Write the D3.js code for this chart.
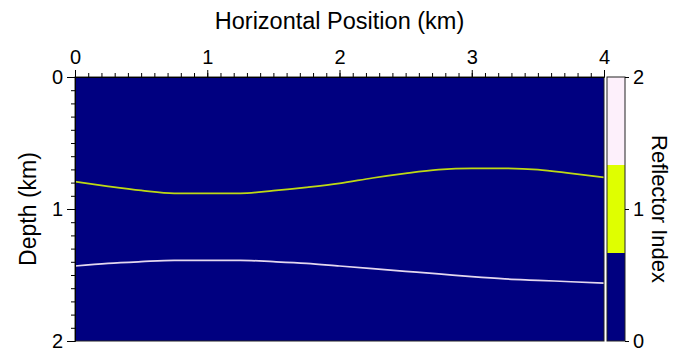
<!DOCTYPE html>
<html><head><meta charset="utf-8">
<script src="https://cdn.jsdelivr.net/npm/d3@7"></script>
<style>body{margin:0;background:#fff}svg{display:block}text{font-family:"Liberation Sans",Arial,sans-serif;fill:#000}</style>
</head><body><svg id="c" width="682" height="352"></svg>
<script>
// Data
const xPositions = [0,0.25,0.5,0.75,1,1.25,1.5,1.75,2,2.25,2.5,2.75,3,3.25,3.5,3.75,4];
const reflector1Depth = [0.793,0.828,0.859,0.881,0.881,0.881,0.861,0.836,0.806,0.765,0.730,0.702,0.692,0.692,0.702,0.730,0.760];
const reflector2Depth = [1.432,1.412,1.399,1.389,1.389,1.389,1.399,1.412,1.432,1.452,1.472,1.492,1.513,1.530,1.540,1.551,1.561];
const reflectorIndices = [0,1,2];
const indexColors = ["#000080","#dfff00","#fdf0fb"];
const xTicks = [0,1,2,3,4];
const yTicks = [0,1,2];
const cbTicks = [0,1,2];

const svg = d3.select("#c");
const L=75, R=604, T=77, B=341;
const x = d3.scaleLinear().domain([0,4]).range([L,R]);
const y = d3.scaleLinear().domain([0,2]).range([T,B]);
const color = d3.scaleOrdinal().domain(reflectorIndices).range(indexColors);

// background model (index 0)
svg.append("rect").attr("x",x(0)).attr("y",y(0)).attr("width",x(4)-x(0)).attr("height",y(2)-y(0)).attr("fill",color(0));

const line = d3.line().x((d,i)=>x(xPositions[i])).y(d=>y(d)).curve(d3.curveMonotoneX);
svg.append("path").datum(reflector1Depth).attr("d",line).attr("fill","none").attr("stroke",color(1)).attr("stroke-width",1.7).attr("stroke-opacity",0.85);
svg.append("path").datum(reflector2Depth).attr("d",line).attr("fill","none").attr("stroke",color(2)).attr("stroke-width",1.7).attr("stroke-opacity",0.9);

svg.append("rect").attr("x",L).attr("y",T).attr("width",R-L).attr("height",B-T).attr("fill","none").attr("stroke","#222").attr("stroke-width",1);

// axes
const minor = d3.range(0,41).map(d=>d/10);
const minorY = d3.range(0,21).map(d=>d/10);
const fs = "20px";
svg.append("g").attr("transform",`translate(0,${T})`).call(d3.axisTop(x).tickValues(minor).tickSize(4).tickFormat("")).call(g=>g.select(".domain").remove());
svg.append("g").attr("transform",`translate(0,${T})`).call(d3.axisTop(x).tickValues(xTicks).tickSize(7).tickPadding(6).tickFormat(d3.format("d")))
  .call(g=>g.selectAll("text").style("font-size",fs)).call(g=>g.select(".domain").attr("stroke","#000"));
svg.append("g").attr("transform",`translate(${L},0)`).call(d3.axisLeft(y).tickValues(minorY).tickSize(4).tickFormat("")).call(g=>g.select(".domain").remove());
svg.append("g").attr("transform",`translate(${L},0)`).call(d3.axisLeft(y).tickValues(yTicks).tickSize(8).tickPadding(4).tickFormat(d3.format("d")))
  .call(g=>g.selectAll("text").style("font-size",fs));

// colorbar
const cbX0=607, cbX1=625;
const cy = d3.scaleLinear().domain([0,2]).range([B,T]);
const bins = reflectorIndices.map(i=>({i, lo:i*2/3, hi:(i+1)*2/3}));
svg.append("g").selectAll("rect").data(bins).join("rect")
  .attr("x",cbX0).attr("width",cbX1-cbX0).attr("y",d=>cy(d.hi)).attr("height",d=>cy(d.lo)-cy(d.hi)).attr("fill",d=>color(d.i));
svg.append("rect").attr("x",cbX0).attr("y",T).attr("width",cbX1-cbX0).attr("height",B-T).attr("fill","none").attr("stroke","#222");
svg.append("g").attr("transform",`translate(${cbX1},0)`).call(d3.axisRight(cy).tickValues(cbTicks).tickSize(4).tickPadding(4).tickFormat(d3.format("d")))
  .call(g=>g.selectAll("text").style("font-size",fs)).call(g=>g.select(".domain").remove());

// titles
svg.append("text").attr("x",(L+R)/2).attr("y",29).attr("text-anchor","middle").style("font-size","23.5px").text("Horizontal Position (km)");
svg.append("text").attr("transform",`translate(36,${(T+B)/2}) rotate(-90)`).attr("text-anchor","middle").style("font-size","23px").text("Depth (km)");
svg.append("text").attr("transform",`translate(652,${(T+B)/2}) rotate(90)`).attr("text-anchor","middle").style("font-size","22px").text("Reflector Index");
</script></body></html>
